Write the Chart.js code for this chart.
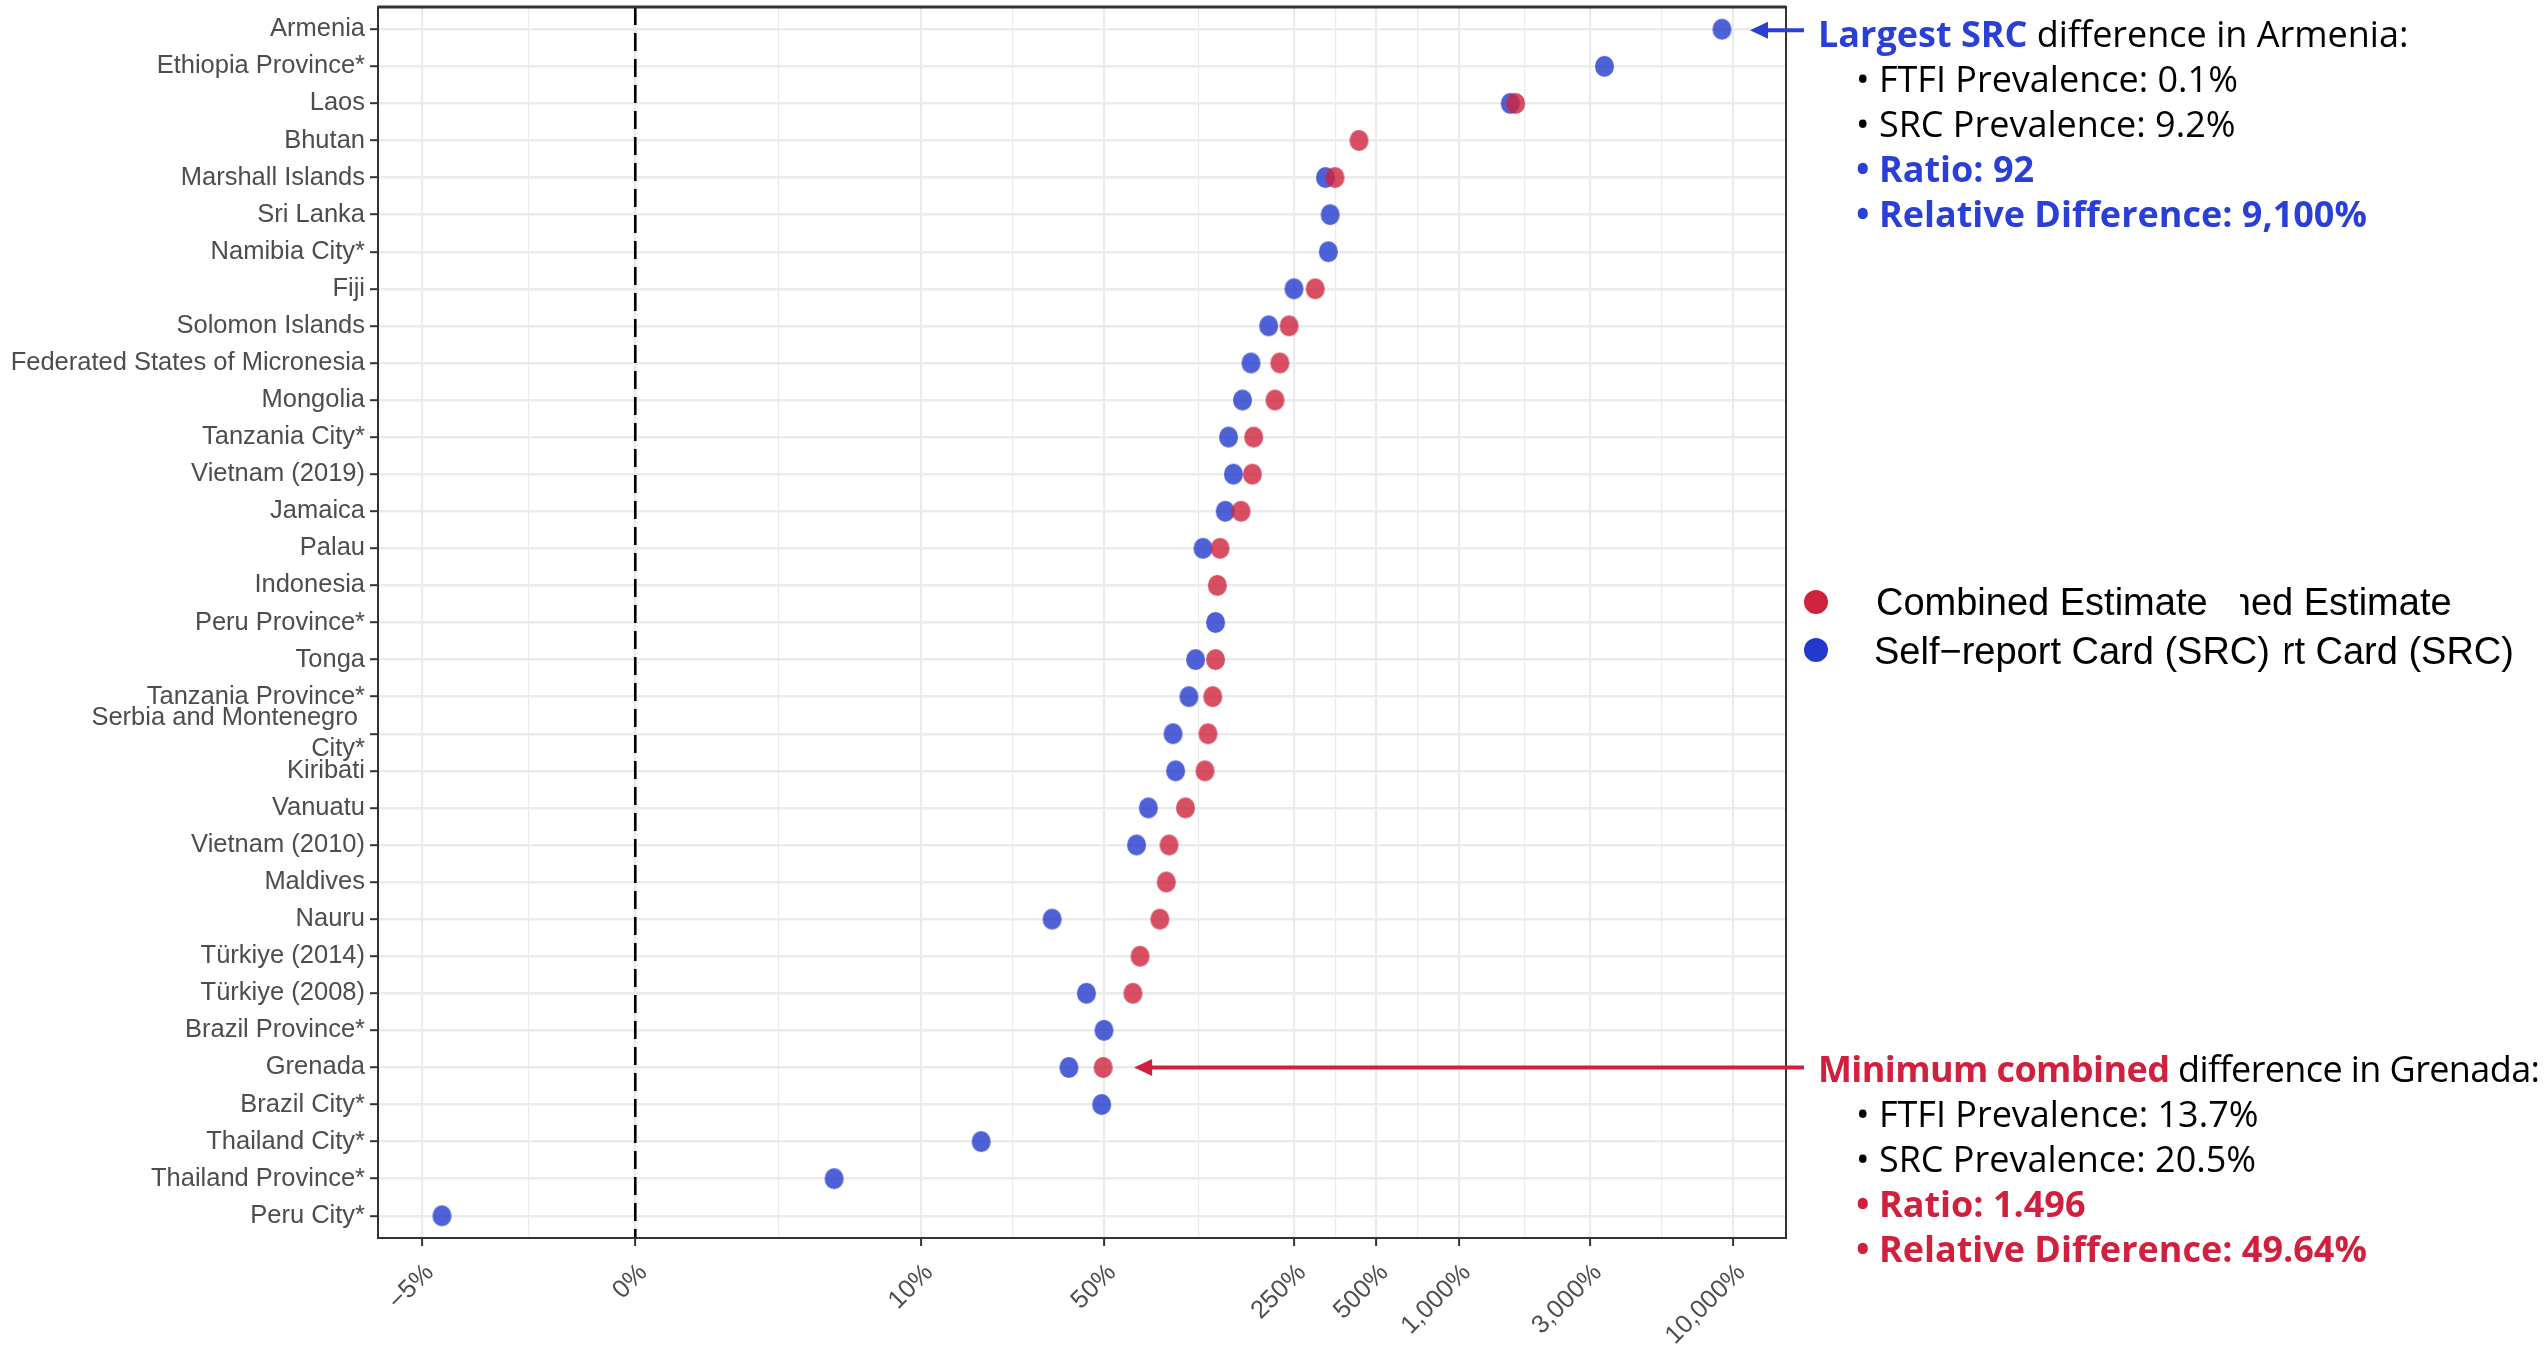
<!DOCTYPE html>
<html><head><meta charset="utf-8">
<script src="https://cdn.jsdelivr.net/npm/chart.js@4.4.1/dist/chart.umd.min.js"></script>
<style>
html,body{margin:0;padding:0;background:#fff;}
#wrap{position:relative;width:2545px;height:1349px;overflow:hidden;background:#fff;}
#c{position:absolute;left:0;top:0;}
.ann{position:absolute;font-family:'Open Sans',Roboto,'Liberation Sans',sans-serif;font-size:36px;line-height:45px;color:#000;white-space:nowrap;letter-spacing:0;}
.b{font-weight:700;}
.blue{color:#2a3fd6;}
.red{color:#d0203d;}
.ind{padding-left:38px;}
.tight{letter-spacing:-0.6px;}
.leg{position:absolute;font-family:'Liberation Sans',Arial,sans-serif;font-size:38px;line-height:49px;color:#000;white-space:nowrap;}
.clip{position:absolute;overflow:hidden;height:49px;}
.clip .leg{top:0;}
.dot{position:absolute;width:24px;height:24px;border-radius:50%;}
</style></head>
<body><div id="wrap">
<canvas id="c" width="2545" height="1349"></canvas>

<div class="ann" style="left:1818px;top:11px;">
  <div><span class="b blue">Largest SRC</span> difference in Armenia:</div>
  <div class="ind">• FTFI Prevalence: 0.1%</div>
  <div class="ind">• SRC Prevalence: 9.2%</div>
  <div class="ind b blue">• Ratio: 92</div>
  <div class="ind b blue">• Relative Difference: 9,100%</div>
</div>

<div class="ann" style="left:1818px;top:1046px;">
  <div class="tight"><span class="b red">Minimum combined</span> difference in Grenada:</div>
  <div class="ind">• FTFI Prevalence: 13.7%</div>
  <div class="ind">• SRC Prevalence: 20.5%</div>
  <div class="ind b red">• Ratio: 1.496</div>
  <div class="ind b red">• Relative Difference: 49.64%</div>
</div>

<div class="dot" style="left:1804px;top:590px;background:#ce233c;"></div>
<div class="dot" style="left:1804px;top:638px;background:#2338cc;"></div>
<div class="leg" style="left:1876px;top:578px;">Combined Estimate</div>
<div class="leg" style="left:1874px;top:627px;">Self−report Card (SRC)</div>
<div class="clip" style="left:2240px;top:578px;width:305px;"><div class="leg" style="left:-120px;">Combined Estimate</div></div>
<div class="clip" style="left:2285px;top:627px;width:260px;"><div class="leg" style="left:-167px;">Self−report Card (SRC)</div></div>
</div>

<script>
// ---- data ----
const categories = ["Armenia","Ethiopia Province*","Laos","Bhutan","Marshall Islands","Sri Lanka","Namibia City*","Fiji","Solomon Islands","Federated States of Micronesia","Mongolia","Tanzania City*","Vietnam (2019)","Jamaica","Palau","Indonesia","Peru Province*","Tonga","Tanzania Province*",["Serbia and Montenegro ","City*"],"Kiribati","Vanuatu","Vietnam (2010)","Maldives","Nauru","Türkiye (2014)","Türkiye (2008)","Brazil Province*","Grenada","Brazil City*","Thailand City*","Thailand Province*","Peru City*"];
// relative difference (%) — Combined Estimate
const combinedEstimate = [null,null,1610,432,353,null,null,299,240,222,213,178,176,160,134,131,null,129,126,121,118,100,87,85,80.5,68,64,null,49.64,null,null,null,null];
// relative difference (%) — Self-report Card (SRC)
const selfReportCard = [9100,3395,1540,null,326,339,334,250,202,174,162,144,150,140,116,null,129,109,103,90,92,73,66,null,32,null,43,50,37,49,17.2,4.3,-4.06];
const tickValues = [-5,0,10,50,250,500,1000,3000,10000];

// pseudo-log transform used by the x axis
const tf = v => Math.sign(v) * Math.log10(1 + Math.abs(v));

const toPts = arr => arr.map((v,i) => v === null ? null : {x: tf(v), y: i}).filter(p => p);
const allT = combinedEstimate.concat(selfReportCard).filter(v => v !== null).map(tf);
const tMin = Math.min(...allT), tMax = Math.max(...allT), tR = tMax - tMin;

function dot(color, w, h){
  const c = document.createElement('canvas'); c.width = w + 2; c.height = h + 2;
  const g = c.getContext('2d'); g.fillStyle = color; g.beginPath();
  g.ellipse((w+2)/2, (h+2)/2, w/2, h/2, 0, 0, Math.PI*2); g.fill(); return c;
}
const redDot = dot('rgba(206,35,60,0.8)', 19, 21);
const blueDot = dot('rgba(35,58,205,0.8)', 19, 21);

function arrow(ctx, tipX, y, fromX, color){
  ctx.save(); ctx.strokeStyle = color; ctx.fillStyle = color; ctx.lineWidth = 4;
  ctx.beginPath(); ctx.moveTo(fromX, y); ctx.lineTo(tipX + 14, y); ctx.stroke();
  ctx.beginPath(); ctx.moveTo(tipX, y); ctx.lineTo(tipX + 18, y - 8.5); ctx.lineTo(tipX + 18, y + 8.5); ctx.closePath(); ctx.fill();
  ctx.restore();
}

const deco = {
  id: 'deco',
  beforeDatasetsDraw(chart){
    const {ctx, chartArea: a, scales: {x}} = chart;
    const px = x.getPixelForValue(tf(0));
    ctx.save(); ctx.strokeStyle = '#000'; ctx.lineWidth = 2.6; ctx.setLineDash([18, 8]);
    ctx.beginPath(); ctx.moveTo(px, a.top); ctx.lineTo(px, a.bottom); ctx.stroke(); ctx.restore();
  },
  afterDatasetsDraw(chart){
    const {ctx, chartArea: a} = chart;
    ctx.save(); ctx.strokeStyle = '#333';
    ctx.lineWidth = 2; ctx.strokeRect(a.left, a.top, a.right - a.left, a.bottom - a.top);
    ctx.lineWidth = 3; ctx.beginPath(); ctx.moveTo(a.left, a.top); ctx.lineTo(a.right, a.top); ctx.stroke();
    ctx.restore();
    const {x, y} = chart.scales;
    const iA = 0, iG = 28; // Armenia (largest SRC), Grenada (minimum combined)
    arrow(ctx, x.getPixelForValue(tf(selfReportCard[iA])) + 28, y.getPixelForValue(iA) + 1, 1804, '#2a3fd6');
    arrow(ctx, x.getPixelForValue(tf(combinedEstimate[iG])) + 31, y.getPixelForValue(iG), 1804, '#d0203d');
  }
};

const labelFont = {family: "'Liberation Sans', Arial, sans-serif", size: 25.5};

new Chart(document.getElementById('c'), {
  type: 'scatter',
  data: {
    datasets: [
      {label: 'Combined Estimate', data: toPts(combinedEstimate), pointStyle: redDot, backgroundColor: 'rgba(206,35,60,0.8)', borderWidth: 0},
      {label: 'Self−report Card (SRC)', data: toPts(selfReportCard), pointStyle: blueDot, backgroundColor: 'rgba(35,58,205,0.8)', borderWidth: 0}
    ]
  },
  options: {
    responsive: false, animation: false, events: [],
    layout: {padding: {top: 7, right: 759, left: 0, bottom: 0}},
    plugins: {legend: {display: false}, tooltip: {enabled: false}},
    scales: {
      x: {
        type: 'linear', min: tMin - 0.05 * tR, max: tMax + 0.05 * tR,
        afterBuildTicks(scale){
          const ts = [];
          tickValues.forEach((v, i) => {
            ts.push({value: tf(v), lab: (v < 0 ? '−' : '') + Math.abs(v).toLocaleString('en-US') + '%'});
            if (i < tickValues.length - 1) ts.push({value: (tf(v) + tf(tickValues[i+1])) / 2, lab: '', minor: true});
          });
          scale.ticks = ts;
        },
        afterFit(scale){ scale.height = 111; scale.paddingLeft = 0; scale.paddingRight = 0; },
        ticks: {autoSkip: false, minRotation: 45, maxRotation: 45, padding: 12, labelOffset: 8, color: '#4D4D4D', font: labelFont,
          callback: (v, i, t) => t[i].lab || ''},
        grid: {color: '#EBEBEB', lineWidth: c => c.tick && c.tick.minor ? 1.2 : 2.2,
          tickColor: c => c.tick && c.tick.minor ? 'rgba(0,0,0,0)' : '#333', tickLength: 8, tickWidth: 2},
        border: {display: false}
      },
      y: {
        type: 'linear', reverse: true, min: -0.6, max: categories.length - 1 + 0.6,
        afterBuildTicks(scale){ scale.ticks = categories.map((_, i) => ({value: i})); },
        afterFit(scale){ scale.width = 378; scale.paddingTop = 0; scale.paddingBottom = 0; },
        ticks: {autoSkip: false, padding: 5, color: '#4D4D4D', font: labelFont, callback: v => categories[v]},
        grid: {color: '#EBEBEB', lineWidth: 2.4, tickColor: '#333', tickLength: 8, tickWidth: 2},
        border: {display: false}
      }
    }
  },
  plugins: [deco]
});
</script>
</body></html>
